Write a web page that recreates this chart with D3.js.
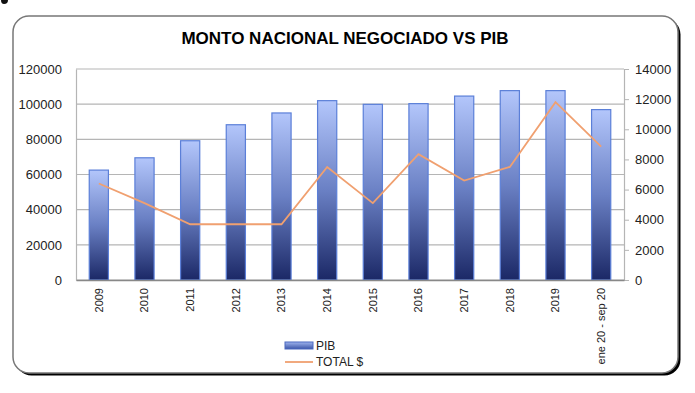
<!DOCTYPE html>
<html><head><meta charset="utf-8">
<script src="https://cdn.jsdelivr.net/npm/d3@7"></script>
<style>body{margin:0;background:#fff;}svg{display:block;font-family:"Liberation Sans",Arial,sans-serif;}</style>
</head><body><svg id="c" width="695" height="393"></svg>
<script>
const categories = ["2009","2010","2011","2012","2013","2014","2015","2016","2017","2018","2019","ene 20 - sep 20"];
const pib = [62500,69500,79200,88300,95000,102000,99900,100300,104600,107700,107700,96900];
const total = [6400,5100,3700,3700,3700,7500,5100,8350,6600,7500,11800,8850];
const leftTicks = [0,20000,40000,60000,80000,100000,120000];
const rightTicks = [0,2000,4000,6000,8000,10000,12000,14000];
const title = "MONTO NACIONAL NEGOCIADO VS PIB";
const legendLabels = ["PIB","TOTAL $"];

const svg = d3.select("#c");
const defs = svg.append("defs");
const g1 = defs.append("linearGradient").attr("id","bg").attr("x1",0).attr("y1",0).attr("x2",0).attr("y2",1);
g1.append("stop").attr("offset","0%").attr("stop-color","#b3c6fb");
g1.append("stop").attr("offset","50%").attr("stop-color","#6a80c4");
g1.append("stop").attr("offset","100%").attr("stop-color","#1b2866");
const g2 = defs.append("linearGradient").attr("id","lg").attr("x1",0).attr("y1",0).attr("x2",0).attr("y2",1);
g2.append("stop").attr("offset","0%").attr("stop-color","#9fb4ee");
g2.append("stop").attr("offset","100%").attr("stop-color","#3c56a8");

// stray glyph fragment at the top-left corner (descender of a cropped letter)
svg.append("path").attr("d","M1,0 L8,0 Q8,4 4,4 Q1,4 1,0 Z").attr("fill","#111");

// frame
svg.append("rect").attr("x",15.5).attr("y",18.5).attr("width",665).attr("height",357).attr("rx",16).attr("fill","#000");
svg.append("rect").attr("x",13).attr("y",16).attr("width",665).attr("height",357).attr("rx",16).attr("fill","#fff").attr("stroke","#777").attr("stroke-width",1.5);

svg.append("text").attr("x",345).attr("y",44).attr("text-anchor","middle").attr("font-size",17).attr("font-weight","bold").attr("fill","#000").text(title);

const L=76, R=624, T=69, B=280;
const x = d3.scaleBand().domain(categories).range([L,R]).paddingInner(0.58).paddingOuter(0.29);
const yL = d3.scaleLinear().domain([0,120000]).range([B,T]);
const yR = d3.scaleLinear().domain([0,14000]).range([B,T]);

// gridlines
svg.append("g").selectAll("line").data(leftTicks).join("line")
  .attr("x1",L).attr("x2",R).attr("y1",d=>yL(d)).attr("y2",d=>yL(d)).attr("stroke","#b5b5b5").attr("stroke-width",1.2);

// left axis
const la = svg.append("g").attr("transform",`translate(${L},0)`).call(d3.axisLeft(yL).tickValues(leftTicks).tickSize(0).tickPadding(14).tickFormat(d3.format("d")));
la.select(".domain").attr("stroke","#b5b5b5").attr("stroke-width",1.2);
la.selectAll("text").attr("font-size",13).attr("fill","#222").attr("font-family","Liberation Sans, Arial, sans-serif");

// right axis
const ra = svg.append("g").attr("transform",`translate(${R},0)`).call(d3.axisRight(yR).tickValues(rightTicks).tickSize(5).tickPadding(6).tickFormat(d3.format("d")));
ra.select(".domain").attr("stroke","#b5b5b5").attr("stroke-width",1.2);
ra.selectAll("line").attr("stroke","#b5b5b5");
ra.selectAll("text").attr("font-size",13).attr("fill","#222").attr("font-family","Liberation Sans, Arial, sans-serif");

// bars
svg.append("g").selectAll("rect").data(pib).join("rect")
  .attr("x",(d,i)=>x(categories[i])).attr("width",x.bandwidth())
  .attr("y",d=>yL(d)).attr("height",d=>B-yL(d))
  .attr("fill","url(#bg)").attr("stroke","#5b7fd8").attr("stroke-width",1.2);

// bottom axis
const ba = svg.append("g").attr("transform",`translate(0,${B})`).call(d3.axisBottom(x).tickSize(0).tickPadding(0));
ba.select(".domain").attr("stroke","#888").attr("stroke-width",1.5);
ba.selectAll("text").attr("font-size",11).attr("fill","#222").attr("font-family","Liberation Sans, Arial, sans-serif")
  .attr("transform","rotate(-90)").attr("text-anchor","end").attr("dy","0.35em").attr("x",-8).attr("y",0);

// line
const line = d3.line().x((d,i)=>x(categories[i])+x.bandwidth()/2).y(d=>yR(d));
svg.append("path").datum(total).attr("d",line).attr("fill","none").attr("stroke","#f0a070").attr("stroke-width",1.8);

// legend
svg.append("rect").attr("x",285).attr("y",342).attr("width",28).attr("height",7).attr("fill","url(#lg)").attr("stroke","#4a68c0").attr("stroke-width",1);
svg.append("text").attr("x",316).attr("y",350).attr("font-size",12).attr("fill","#222").text(legendLabels[0]);
svg.append("line").attr("x1",285).attr("x2",313).attr("y1",362).attr("y2",362).attr("stroke","#f0a070").attr("stroke-width",1.8);
svg.append("text").attr("x",316).attr("y",366).attr("font-size",12).attr("fill","#222").text(legendLabels[1]);
</script></body></html>
